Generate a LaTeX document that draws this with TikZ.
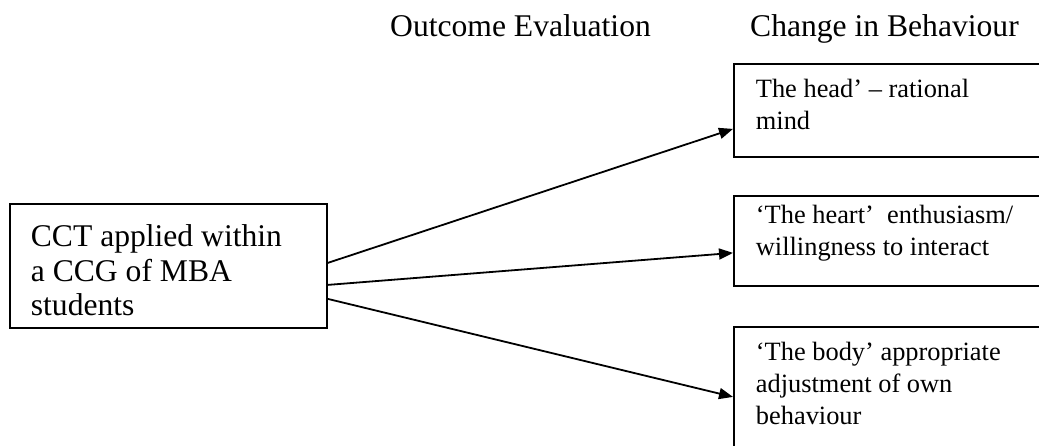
\documentclass[tikz,border=0pt]{standalone}
\usepackage{fontspec}
\setmainfont{Liberation Serif}
\usetikzlibrary{arrows.meta}

\begin{document}
\begin{tikzpicture}[x=1pt, y=-1pt,
  box/.style={draw, line width=1.8pt, anchor=north west, align=flush left, inner ysep=0pt},
  bigtext/.style={font=\fontsize{31.6}{34.5}\selectfont},
  smalltext/.style={font=\fontsize{26.4}{32}\selectfont},
  arr/.style={line width=1.8pt, -{Triangle[length=14pt, width=11pt]}}]
\useasboundingbox (0,0) rectangle (1039,446);
\clip (0,0) rectangle (1039,446);

\node[bigtext, anchor=base west, inner sep=0pt] (outcome) at (390,37) {Outcome Evaluation};
\node[bigtext, anchor=base west, inner sep=0pt] (change) at (750,37) {Change in Behaviour};

\node[box, bigtext, inner xsep=21pt, text width=275pt, text height=43pt, text depth=81pt] (cct) at (9,203) {CCT applied within\\a CCG of MBA\\students};

\node[box, smalltext, inner xsep=22pt, text width=276pt, text height=34pt, text depth=59pt] (head) at (733,63) {The head’ – rational\\mind};
\node[box, smalltext, inner xsep=22pt, text width=276pt, text height=28pt, text depth=62pt] (heart) at (733,195) {‘The heart’\ \ enthusiasm/\\willingness to interact};
\node[box, smalltext, inner xsep=22pt, text width=276pt, text height=34pt, text depth=108pt] (body) at (733,326) {‘The body’ appropriate\\adjustment of own\\behaviour};

\draw[arr] ([yshift=3pt]cct.east) -- ([yshift=-18.5pt]head.west);
\draw[arr] ([yshift=-19pt]cct.east) -- ([yshift=-12pt]heart.west);
\draw[arr] ([yshift=-33pt]cct.east) -- ([yshift=1pt]body.west);
\end{tikzpicture}
\end{document}
